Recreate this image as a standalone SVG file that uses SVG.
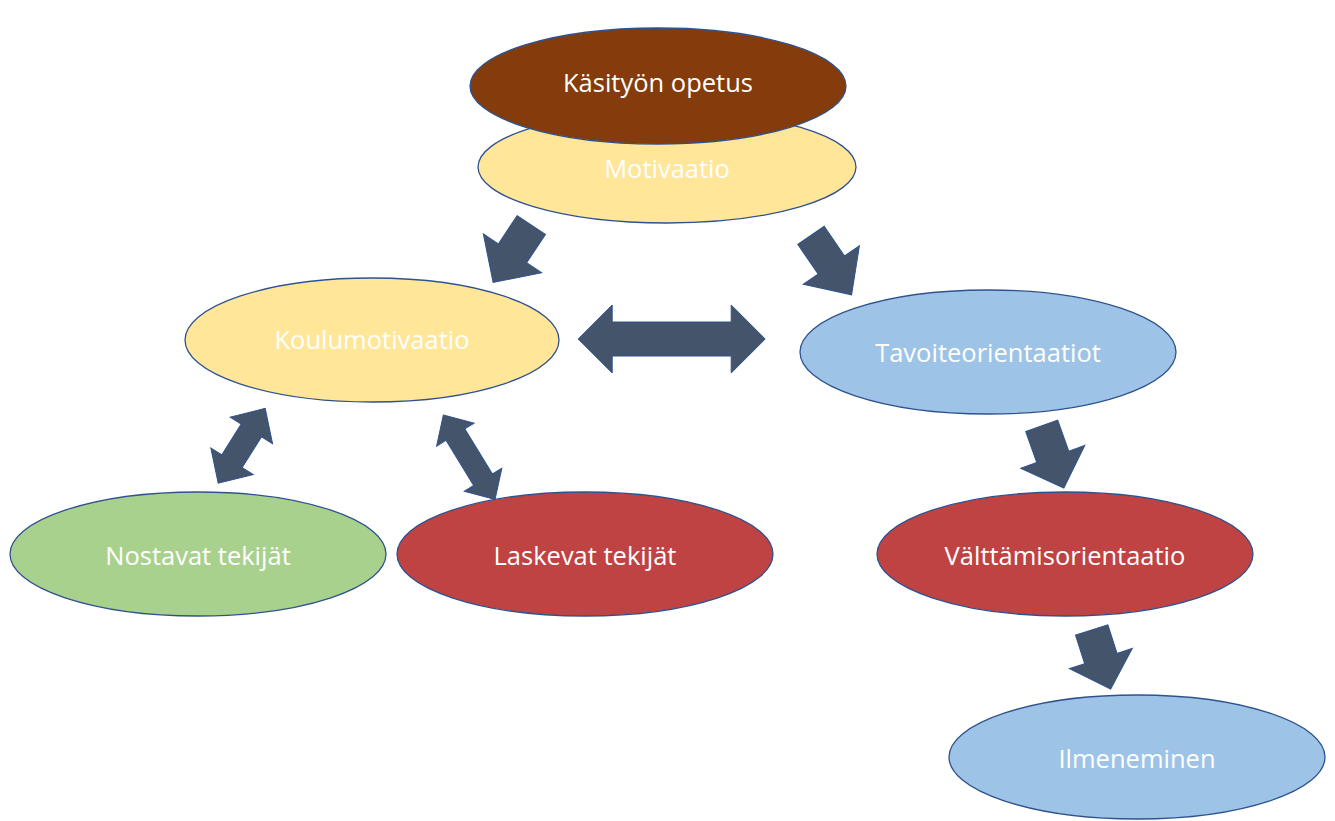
<svg xmlns="http://www.w3.org/2000/svg" width="1335" height="821" viewBox="0 0 1335 821">
<defs>
<style>
.n{stroke:#2F528F;stroke-width:1.3}
.t{font-family:"Open Sans","Liberation Sans",Arial,sans-serif;font-size:25.5px;fill:#FFFFFF;text-anchor:middle;dominant-baseline:central}
.a{fill:#44546A;stroke:#2F528F;stroke-width:1}
</style>
</defs>
<rect width="1335" height="821" fill="#FFFFFF"/>
<g id="motivaatio"><ellipse class="n" cx="667" cy="167" rx="189" ry="56" fill="#FFE699"/><text class="t" x="667" y="168">Motivaatio</text></g>
<g id="kasityon-opetus"><ellipse class="n" cx="658" cy="86" rx="188" ry="58" fill="#843C0C"/><text class="t" x="658" y="82">Käsityön opetus</text></g>
<g id="koulumotivaatio"><ellipse class="n" cx="372" cy="340" rx="187" ry="62" fill="#FFE699"/><text class="t" x="372" y="339">Koulumotivaatio</text></g>
<g id="tavoiteorientaatiot"><ellipse class="n" cx="988" cy="352" rx="188" ry="62" fill="#9DC3E6"/><text class="t" x="988" y="352">Tavoiteorientaatiot</text></g>
<g id="nostavat"><ellipse class="n" cx="198" cy="554" rx="188" ry="62" fill="#A9D18E"/><text class="t" x="198" y="555">Nostavat tekijät</text></g>
<g id="laskevat"><ellipse class="n" cx="585" cy="554" rx="188" ry="62" fill="#C04343"/><text class="t" x="585" y="555">Laskevat tekijät</text></g>
<g id="valttamisorientaatio"><ellipse class="n" cx="1065" cy="554" rx="188" ry="62" fill="#C04343"/><text class="t" x="1065" y="555">Välttämisorientaatio</text></g>
<g id="ilmeneminen"><ellipse class="n" cx="1137" cy="757" rx="188" ry="62" fill="#9DC3E6"/><text class="t" x="1137" y="758">Ilmeneminen</text></g>
<g id="connectors">
<path class="a" transform="translate(531.3,225) rotate(123.6)" d="M0,-17 L34,-17 L34,-35 L69,0 L34,35 L34,17 L0,17 Z"/>
<path class="a" transform="translate(811,235.3) rotate(55.7)" d="M0,-16 L36,-16 L36,-34 L72,0 L36,34 L36,16 L0,16 Z"/>
<path class="a" transform="translate(671.7,339)" d="M-93.5,0 L-59.5,-34 L-59.5,-17 L59.5,-17 L59.5,-34 L93.5,0 L59.5,34 L59.5,17 L-59.5,17 L-59.5,34 Z"/>
<path class="a" transform="translate(241.7,445.8) rotate(-57.9)" d="M-44.2,0 L-18.2,-25 L-18.2,-12 L18.2,-12 L18.2,-25 L44.2,0 L18.2,25 L18.2,12 L-18.2,12 L-18.2,25 Z"/>
<path class="a" transform="translate(469.2,457.2) rotate(58.5)" d="M-49.5,0 L-26.5,-22 L-26.5,-11 L26.5,-11 L26.5,-22 L49.5,0 L26.5,22 L26.5,11 L-26.5,11 L-26.5,22 Z"/>
<path class="a" transform="translate(1041.7,425.8) rotate(70.4)" d="M0,-17 L33,-17 L33,-34 L66,0 L33,34 L33,17 L0,17 Z"/>
<path class="a" transform="translate(1091.7,630) rotate(72.2)" d="M0,-17 L30,-17 L30,-33 L62,0 L30,33 L30,17 L0,17 Z"/>
</g>
</svg>
